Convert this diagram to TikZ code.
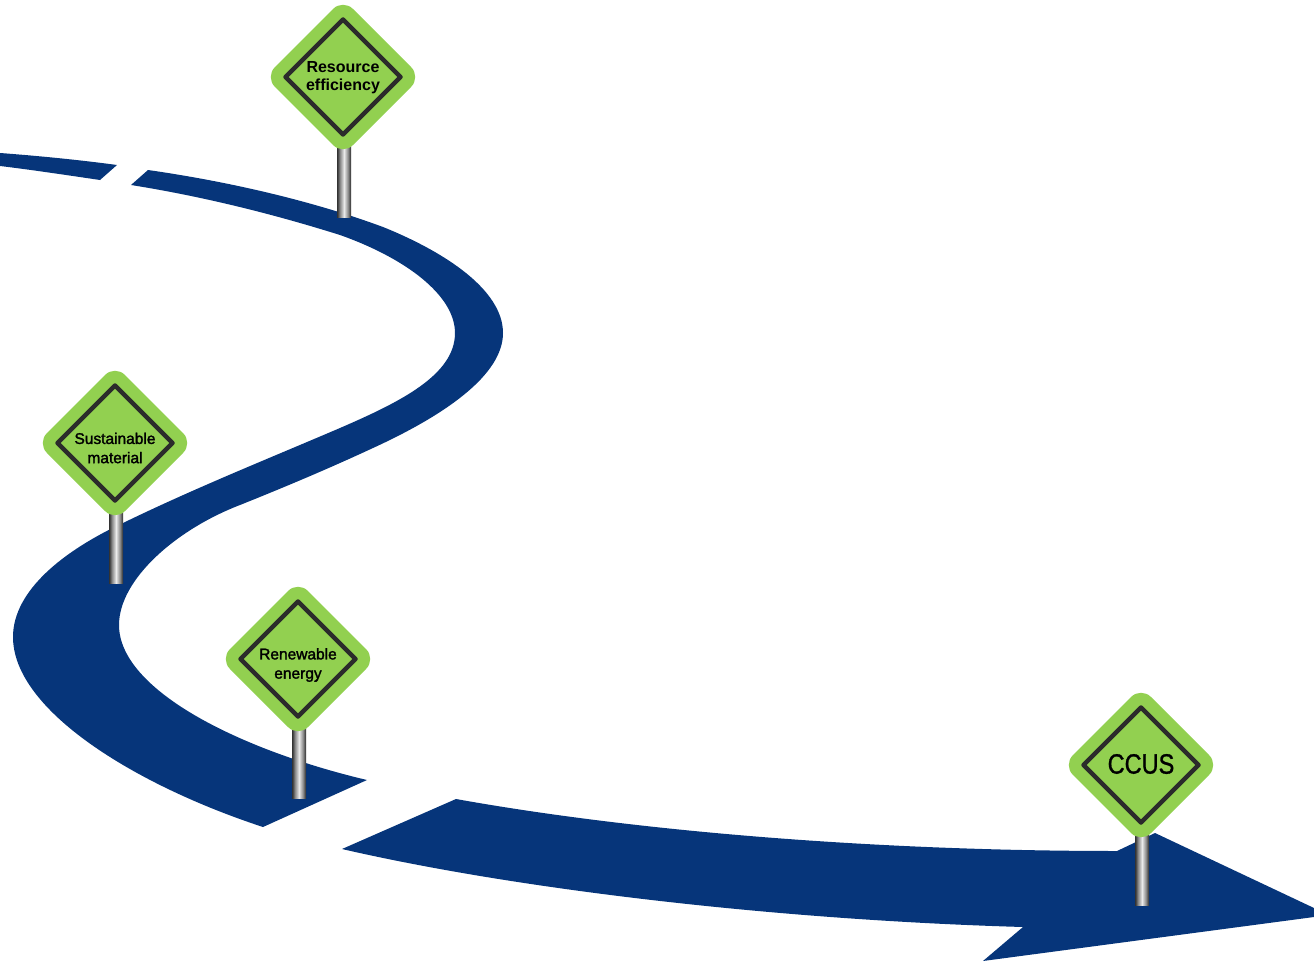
\documentclass[tikz,border=0pt]{standalone}
\usepackage{fontspec}
\setmainfont{Liberation Sans}
\newfontfamily\ccusfont[FakeStretch=0.84,FakeBold=1]{Liberation Sans}
\newfontfamily\signfont[FakeBold=1.8]{Liberation Sans}
\definecolor{road}{HTML}{06357A}
\definecolor{signgreen}{HTML}{92D050}
\definecolor{signline}{HTML}{2B2B2B}
\pgfdeclarehorizontalshading{polemetal}{100bp}{
  color(0bp)=(black!80); color(26bp)=(black!80); color(36bp)=(black!45);
  color(50bp)=(white!92!black); color(64bp)=(black!45); color(74bp)=(black!80); color(100bp)=(black!80)}
\tikzset{
  roadpart/.style={fill=road,draw=none},
  signplate/.style={fill=signgreen,draw=none,rounded corners=14pt},
  signframe/.style={draw=signline,line width=4.5pt,line join=round},
  signtext/.style={align=center,inner sep=0pt,text=black,font=\signfont\fontsize{15.5}{19.2}\selectfont},
  boldtext/.style={align=center,inner sep=0pt,text=black,font=\bfseries\fontsize{16}{18}\selectfont},
  ccustext/.style={inner sep=0pt,text=black,font=\ccusfont\fontsize{28}{30}\selectfont},
  polepart/.style={draw=none,shading=polemetal}
}
\newcommand{\roadsign}[3]{%
  \path[polepart] (#1-7,#2+60) rectangle (#1+7,#3);
  \path[signplate] (#1-1,#2-78) -- (#1+77,#2) -- (#1-1,#2+78) -- (#1-79,#2) -- cycle;
  \draw[signframe] (#1-1,#2-57.5) -- (#1+56.5,#2) -- (#1-1,#2+57.5) -- (#1-58.5,#2) -- cycle;
}
\begin{document}
\begin{tikzpicture}[x=1pt,y=-1pt]
\useasboundingbox (0,0) rectangle (1314,963);
% road
\path[roadpart] (0,153) .. controls (40,156) and (80,160) .. (117,165) -- (100,180)
  .. controls (66,175) and (33,170) .. (0,166) -- cycle;
\path[roadpart] (148,170)
  .. controls (225,181) and (310,200) .. (383,227)
  .. controls (445,252) and (503,290) .. (503,333)
  .. controls (503,375) and (445,415) .. (373,448)
  .. controls (330,468) and (285,487) .. (240,505)
  .. controls (175,530) and (119,580) .. (119,625)
  .. controls (119,690) and (240,750) .. (367,780)
  -- (263,827)
  .. controls (135,785) and (13,710) .. (13,637)
  .. controls (13,590) and (65,550) .. (123,523)
  .. controls (195,488) and (270,458) .. (340,428)
  .. controls (400,402) and (455,375) .. (455,333)
  .. controls (455,295) and (405,258) .. (340,235)
  .. controls (270,213) and (200,196) .. (131,185) -- cycle;
\path[roadpart] (456,799) .. controls (640,832) and (880,851) .. (1117,851)
  -- (1155,833) -- (1314,908) -- (1314,917) -- (983,961) -- (1023,927)
  .. controls (780,920) and (520,890) .. (342,849) -- cycle;
% signs
\roadsign{344}{77}{217}
\roadsign{116}{443}{583}
\roadsign{299}{659}{798}
\roadsign{1142}{765}{905}
\node[boldtext] (res) at (343,77.5) {Resource\\efficiency};
\node[signtext] (sus) at (115,448) {Sustainable\\material};
\node[signtext] (ren) at (298,665) {Renewable\\energy};
\node[ccustext] (ccus) at (1141,764) {CCUS};
\end{tikzpicture}
\end{document}
